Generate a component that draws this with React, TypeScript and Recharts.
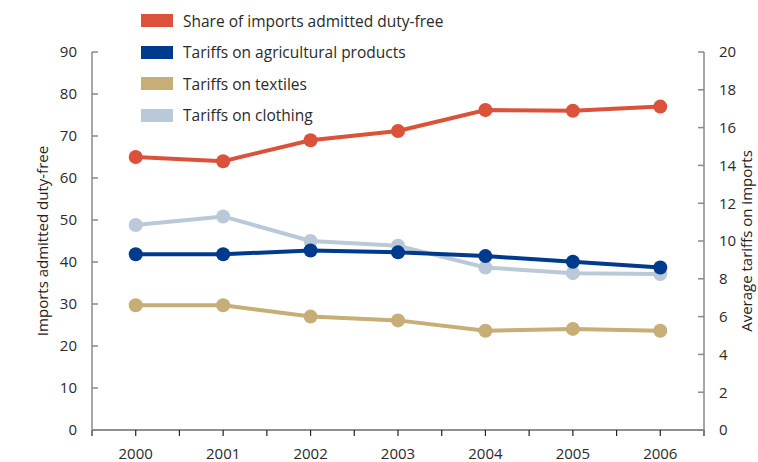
import { LineChart, Line, XAxis, YAxis } from "recharts";

const YEARS = ["2000", "2001", "2002", "2003", "2004", "2005", "2006"];
const DUTY_FREE = [65, 64, 69, 71.2, 76.2, 76, 77];
const AGRICULTURE = [9.3, 9.3, 9.5, 9.4, 9.2, 8.9, 8.6];
const TEXTILES = [6.6, 6.6, 6.0, 5.8, 5.25, 5.35, 5.25];
const CLOTHING = [10.85, 11.3, 10.0, 9.75, 8.6, 8.3, 8.25];

const LEFT_TICKS = [0, 10, 20, 30, 40, 50, 60, 70, 80, 90];
const RIGHT_TICKS = [0, 2, 4, 6, 8, 10, 12, 14, 16, 18, 20];
const X_TICKS = [-0.5, 0, 0.5, 1, 1.5, 2, 2.5, 3, 3.5, 4, 4.5, 5, 5.5, 6, 6.5];

const SERIES = [
  { key: "dutyFree", name: "Share of imports admitted duty-free", color: "#dc5139", axis: "left" },
  { key: "agri", name: "Tariffs on agricultural products", color: "#003a8c", axis: "right" },
  { key: "textiles", name: "Tariffs on textiles", color: "#c6ae76", axis: "right" },
  { key: "clothing", name: "Tariffs on clothing", color: "#b9c9d8", axis: "right" },
];

const data = YEARS.map((year, i) => ({
  i,
  year,
  dutyFree: DUTY_FREE[i],
  agri: AGRICULTURE[i],
  textiles: TEXTILES[i],
  clothing: CLOTHING[i],
}));

const FONT = "'Open Sans', sans-serif";
const tickStyle = { fontSize: 15, fill: "#2a2a2a", fontFamily: FONT };

function LegendBox() {
  return (
    <div style={{ position: "absolute", left: 141, top: 5, fontFamily: FONT, fontSize: 15.5, color: "#2a2a2a" }}>
      {SERIES.map((s) => (
        <div key={s.key} style={{ display: "flex", alignItems: "center", height: 31.5 }}>
          <span style={{ width: 32, height: 13, background: s.color, marginRight: 10 }} />
          <span>{s.name}</span>
        </div>
      ))}
    </div>
  );
}

// draw order: clothing under agri
const drawOrder = ["clothing", "textiles", "agri", "dutyFree"];

export default function App() {
  return (
    <div style={{ position: "absolute", left: 0, top: 0, width: 758, height: 462, background: "#fff" }}>
      <LineChart width={758} height={462} data={data} margin={{ top: 52, right: 0, left: 0, bottom: 0 }}>
        <XAxis
          dataKey="i"
          type="number"
          domain={[-0.5, 6.5]}
          ticks={X_TICKS}
          interval={0}
          tickFormatter={(v: number) => (Number.isInteger(v) ? YEARS[v] : "")}
          height={32}
          tickSize={6}
          tickMargin={12}
          tick={tickStyle}
          stroke="#222"
          strokeWidth={1.2}
        />
        <YAxis
          yAxisId="left"
          orientation="left"
          domain={[0, 90]}
          ticks={LEFT_TICKS}
          interval={0}
          width={92}
          tickSize={-6}
          tickMargin={21}
          tick={tickStyle}
          stroke="#8a8a8a"
          strokeWidth={1.5}
          label={{
            value: "Imports admitted duty-free",
            angle: -90,
            position: "insideLeft",
            offset: 0,
            dx: 43,
            style: { fontSize: 15, fill: "#222", fontFamily: FONT, textAnchor: "middle" },
          }}
        />
        <YAxis
          yAxisId="right"
          orientation="right"
          domain={[0, 20]}
          ticks={RIGHT_TICKS}
          interval={0}
          width={54}
          tickSize={-6}
          tickMargin={21}
          tick={tickStyle}
          stroke="#8a8a8a"
          strokeWidth={1.5}
          label={{
            value: "Average tariffs on imports",
            angle: -90,
            position: "insideRight",
            offset: 0,
            dx: -11,
            style: { fontSize: 15, fill: "#222", fontFamily: FONT, textAnchor: "middle" },
          }}
        />
        {drawOrder.map((k) => {
          const s = SERIES.find((x) => x.key === k)!;
          return (
            <Line
              key={s.key}
              yAxisId={s.axis}
              dataKey={s.key}
              name={s.name}
              stroke={s.color}
              strokeWidth={4}
              dot={{ r: 7, fill: s.color, stroke: "none" }}
              activeDot={false}
              isAnimationActive={false}
            />
          );
        })}
      </LineChart>
      <LegendBox />
    </div>
  );
}
